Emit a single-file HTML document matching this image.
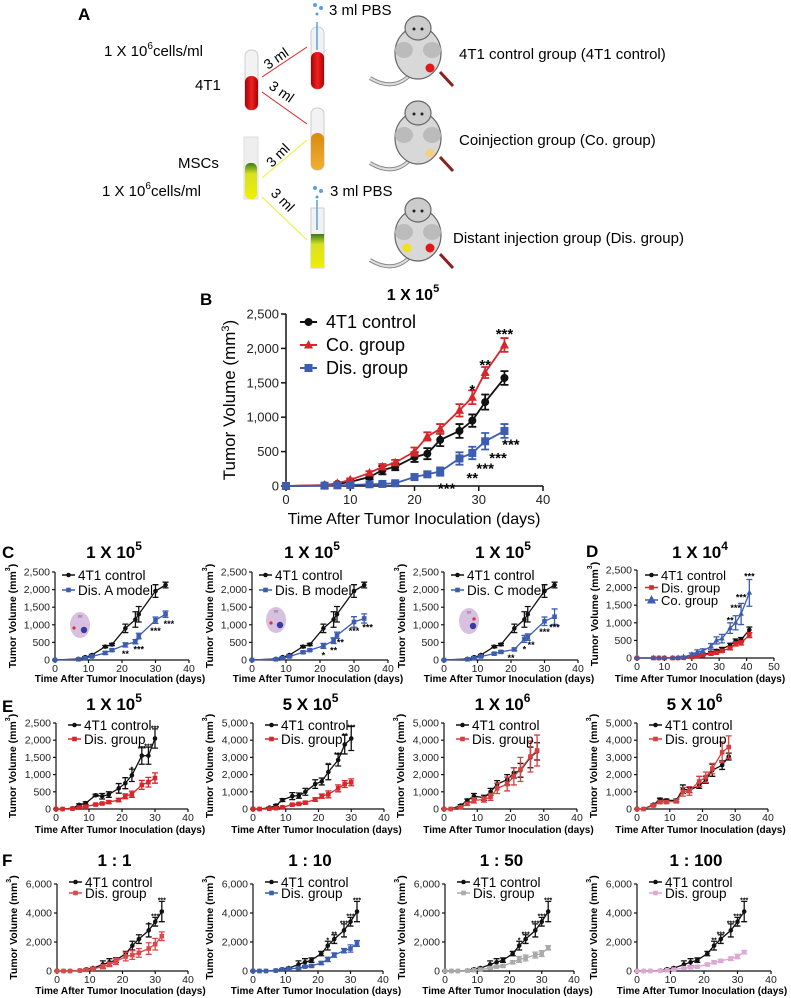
<!DOCTYPE html>
<html><head><meta charset="utf-8">
<style>
html,body{margin:0;padding:0;background:#fff;}
svg{display:block;font-family:"Liberation Sans",sans-serif;}
</style></head>
<body>
<svg id="fig" width="791" height="998" viewBox="0 0 791 998" xmlns="http://www.w3.org/2000/svg">
<defs>
<linearGradient id="gRed" x1="0" y1="0" x2="1" y2="0"><stop offset="0" stop-color="#a00"/><stop offset="0.5" stop-color="#e22"/><stop offset="1" stop-color="#a00"/></linearGradient>
<linearGradient id="gYel" x1="0" y1="0" x2="0" y2="1"><stop offset="0" stop-color="#3a7a1a"/><stop offset="0.3" stop-color="#d8e020"/><stop offset="1" stop-color="#f0f000"/></linearGradient>
<linearGradient id="gOr" x1="0" y1="0" x2="0" y2="1"><stop offset="0" stop-color="#d88a10"/><stop offset="1" stop-color="#f0b030"/></linearGradient>
</defs>
<g id="panelA">
<text x="78" y="20" font-size="17" font-weight="bold">A</text>
<text x="104" y="56" font-size="15">1 X 10<tspan dy="-7" font-size="10">6</tspan><tspan dy="7">cells/ml</tspan></text>
<text x="195" y="90" font-size="15">4T1</text>
<text x="178" y="168" font-size="15">MSCs</text>
<text x="102" y="196" font-size="15">1 X 10<tspan dy="-7" font-size="10">6</tspan><tspan dy="7">cells/ml</tspan></text>
<g><rect x="245" y="50" width="13" height="60" rx="6" fill="#f2f2f2" stroke="#ccc"/><rect x="245" y="76" width="13" height="34" rx="6" fill="url(#gRed)"/></g>
<g><rect x="244" y="137" width="14" height="62" fill="#eee" stroke="#ddd"/><rect x="245" y="163" width="12" height="36" rx="5" fill="url(#gYel)"/></g>
<g><rect x="311" y="27" width="13" height="62" rx="6" fill="#f2f2f2" stroke="#ccc"/><rect x="311" y="52" width="13" height="37" rx="6" fill="url(#gRed)"/><line x1="317" y1="22" x2="317" y2="50" stroke="#5aa0e0" stroke-width="1.5"/></g>
<g><rect x="311" y="108" width="13" height="62" rx="6" fill="#f2f2f2" stroke="#ccc"/><rect x="311" y="133" width="13" height="37" rx="6" fill="url(#gOr)"/></g>
<g><rect x="311" y="208" width="13" height="60" fill="#f2f2f2" stroke="#ccc"/><rect x="311" y="234" width="13" height="34" fill="url(#gYel)"/><line x1="317" y1="200" x2="317" y2="230" stroke="#5aa0e0" stroke-width="1.5"/></g>
<circle cx="315" cy="5" r="2" fill="#5aa0e0"/><circle cx="321" cy="8" r="2" fill="#5aa0e0"/><circle cx="317" cy="14" r="1.5" fill="#5aa0e0"/>
<circle cx="315" cy="188" r="2" fill="#5aa0e0"/><circle cx="321" cy="191" r="2" fill="#5aa0e0"/><circle cx="317" cy="197" r="1.5" fill="#5aa0e0"/>
<text x="329" y="15" font-size="15">3 ml PBS</text>
<text x="330" y="196" font-size="15">3 ml PBS</text>
<g stroke-width="1">
<line x1="262" y1="77" x2="307" y2="47" stroke="#d22"/><line x1="262" y1="92" x2="307" y2="124" stroke="#d22"/>
<line x1="262" y1="178" x2="307" y2="140" stroke="#ee3"/><line x1="262" y1="197" x2="307" y2="240" stroke="#ee3"/>
</g>
<g font-size="14">
<text transform="translate(268,70) rotate(-35)">3 ml</text>
<text transform="translate(268,88) rotate(35)">3 ml</text>
<text transform="translate(272,168) rotate(-45)">3 ml</text>
<text transform="translate(270,194) rotate(45)">3 ml</text>
</g>
<g id="mice"></g>
<text x="459" y="59" font-size="15">4T1 control group (4T1 control)</text>
<text x="459" y="145" font-size="15">Coinjection group (Co. group)</text>
<text x="453" y="243" font-size="15">Distant injection group (Dis. group)</text>
</g>
<g id="charts"></g>
<g font-size="17" font-weight="bold">
<text x="200" y="305">B</text>
<text x="2" y="558">C</text>
<text x="586" y="557">D</text>
<text x="2" y="712">E</text>
<text x="2" y="866">F</text>
</g>
</svg>
<script>
const NS="http://www.w3.org/2000/svg";
function mk(tag,attrs,parent,txt){const e=document.createElementNS(NS,tag);for(const k in attrs)e.setAttribute(k,attrs[k]);if(txt!==undefined)e.textContent=txt;parent.appendChild(e);return e;}

const miceG=document.getElementById('mice');
[[418,20,[[430,68,'#e01818']]],[418,105,[[430,153,'#f5d080']]],[418,202,[[407,248,'#f0e020'],[430,248,'#e01818']]]].forEach((m,i)=>{
  const g=mk('g',{},miceG);
  
  
  const [cx,cy,dots]=m;
  mk('path',{d:`M${cx-8} ${cy+55} Q${cx-25} ${cy+72} ${cx-48} ${cy+58}`,fill:'none',stroke:'#888','stroke-width':4},g);
  mk('path',{d:`M${cx-8} ${cy+55} Q${cx-25} ${cy+72} ${cx-48} ${cy+58}`,fill:'none',stroke:'#ddd','stroke-width':2},g);
  mk('ellipse',{cx:cx,cy:cy+33,rx:23,ry:26,fill:'#d8d8d8',stroke:'#666','stroke-width':1.2},g);
  mk('ellipse',{cx:cx,cy:cy+8,rx:13,ry:12,fill:'#ccc',stroke:'#666','stroke-width':1.2},g);
  mk('ellipse',{cx:cx-14,cy:cy+30,rx:9,ry:8,fill:'#bbb'},g);
  mk('ellipse',{cx:cx+14,cy:cy+30,rx:9,ry:8,fill:'#bbb'},g);
  mk('circle',{cx:cx-4,cy:cy+9,r:1.5,fill:'#222'},g);mk('circle',{cx:cx+4,cy:cy+9,r:1.5,fill:'#222'},g);
  dots.forEach(d=>mk('circle',{cx:d[0],cy:d[1],r:4.5,fill:d[2]},g));
  mk('line',{x1:cx+22,y1:cy+52,x2:cx+35,y2:cy+66,stroke:'#8a2020','stroke-width':3},g);
});

// ---------- DATA ----------
const bDays=[0,6,8,10,13,15,17,20,22,24,27,29,31,34];
const bCtrl=[0,10,30,60,130,230,280,420,470,670,800,950,1220,1570];
const bCtrlErr=[0,10,15,20,30,60,50,70,80,90,100,90,110,100];
const bCo=[0,15,40,90,190,280,340,500,720,830,1100,1290,1650,2050];
const bCoErr=[0,10,15,20,25,40,40,60,60,70,90,100,80,100];
const bDis=[0,5,10,15,25,30,40,130,170,210,400,480,650,800];
const bDisErr=[0,5,5,8,10,15,20,30,40,60,90,90,120,100];
const bYTicks=['0','500','1,000','1,500','2,000','2,500'];
const bXTicks=['0','10','20','30','40'];

const cDays=[0,7,9,11,15,17,21,24,25,30,33];
const cCtrl=[0,30,80,140,380,440,900,1150,1300,1960,2130];
const cCtrlErr=[0,10,20,20,30,30,120,220,220,180,80];
const cDisA=[0,20,50,100,200,280,430,520,680,1130,1300];
const cDisAErr=[0,10,15,20,40,30,60,60,80,90,90];
const cDisB=[0,20,50,100,220,280,400,550,700,1080,1180];
const cDisBErr=[0,10,15,20,30,30,70,80,90,150,130];
const cDisC=[0,20,50,100,180,230,300,600,650,1100,1230];
const cDisCErr=[0,10,15,20,30,30,40,100,90,120,220];
const c25Ticks=['0','500','1,000','1,500','2,000','2,500'];
const x40Ticks=['0','10','20','30','40'];

const dDays=[0,6,8,10,13,15,17,20,22,24,27,29,31,34,36,38,41];
const dCtrl=[0,0,0,0,0,0,10,40,80,100,150,200,250,370,480,520,800];
const dCtrlErr=[0,0,0,0,0,0,10,20,20,30,40,40,50,50,60,60,80];
const dDis=[0,0,0,0,0,0,5,30,60,80,120,150,200,280,400,430,650];
const dDisErr=[0,0,0,0,0,0,5,15,20,20,30,30,40,50,60,60,70];
const dCo=[0,0,0,0,0,10,30,100,170,200,330,500,550,850,1000,1250,1850];
const dCoErr=[0,0,0,0,0,10,20,40,60,60,80,100,120,150,200,300,380];
const x50Ticks=['0','10','20','30','40','50'];

const eDays=[0,2,5,7,9,12,14,16,19,21,23,26,28,30];
const e1Ctrl=[0,0,20,120,170,400,370,420,600,750,980,1550,1550,2050];
const e1CtrlErr=[0,0,10,30,40,30,80,80,140,160,180,250,250,280];
const e1Dis=[0,0,10,40,70,130,160,200,260,370,430,700,780,900];
const e1DisErr=[0,0,5,10,20,20,30,40,50,70,90,130,140,150];
const e2Ctrl=[0,0,80,200,520,750,780,1000,1450,1600,2150,2850,3750,4100];
const e2CtrlErr=[0,0,30,60,80,200,150,200,250,200,450,350,550,700];
const e2Dis=[0,0,20,50,100,250,300,370,550,750,850,1200,1450,1550];
const e2DisErr=[0,0,10,20,30,50,50,70,100,120,200,200,200,200];
const e50Ticks=['0','1,000','2,000','3,000','4,000','5,000'];
const e3Days=[0,2,5,7,9,12,14,16,19,21,23,26,28];
const e3Ctrl=[0,0,200,500,750,650,1000,1450,1700,2100,2250,3000,3350];
const e3CtrlErr=[0,0,50,80,150,150,200,200,300,300,400,600,500];
const e3Dis=[0,0,100,300,500,550,700,1200,1450,1900,2300,3050,3400];
const e3DisErr=[0,0,50,80,150,150,200,300,400,500,700,900,900];
const e4Ctrl=[0,0,250,550,500,500,1150,1100,1350,1700,2250,2550,3050];
const e4CtrlErr=[0,0,50,80,80,80,250,150,150,200,350,250,200];
const e4Dis=[0,0,200,400,400,450,1000,1050,1600,1850,2350,3300,3600];
const e4DisErr=[0,0,50,80,80,100,250,250,300,300,300,600,650];

const fDays=[0,2,4,7,9,11,14,16,18,21,23,25,28,30,32];
const fCtrl=[0,0,0,30,120,200,450,600,750,1200,1750,2200,2800,3400,4100];
const fCtrlErr=[0,0,0,20,50,60,250,250,150,150,300,300,450,300,700];
const f1Dis=[0,0,0,30,80,150,300,450,650,1000,1100,1250,1550,1850,2400];
const f1DisErr=[0,0,0,20,40,60,150,150,200,300,300,300,400,400,300];
const f2Dis=[0,0,0,30,100,150,200,300,350,550,800,1100,1400,1550,1900];
const f2DisErr=[0,0,0,20,30,40,60,60,80,100,150,150,150,250,200];
const f3Dis=[0,0,0,20,60,100,200,300,350,600,800,900,1100,1200,1600];
const f3DisErr=[0,0,0,20,30,40,60,60,80,100,200,200,200,200,150];
const f4Dis=[0,0,0,20,50,100,200,250,300,450,600,700,850,1000,1300];
const f4DisErr=[0,0,0,20,30,40,50,60,80,80,100,100,120,150,120];
const f60Ticks=['0','2,000','4,000','6,000'];

// ---------- CHART BUILDER ----------
const root=document.getElementById('charts');
function chart(c){
  const g=mk('g',{},root);
  
  
  const sx=v=>c.x0+(v/c.xmax)*(c.x1-c.x0);
  const sy=v=>c.y0-(v/c.ymax)*(c.y0-c.yt);
  const big=c.big;
  const tf=big?13:10.5, sw=big?1.5:1.2;
  const ax=mk('line',{x1:c.x0,y1:c.y0,x2:c.x1,y2:c.y0,stroke:'#111','stroke-width':sw},g);
  
  
  const ay=mk('line',{x1:c.x0,y1:c.y0,x2:c.x0,y2:c.yt,stroke:'#111','stroke-width':sw},g);
  
  
  c.xt.forEach((t,i)=>{const v=i*c.xmax/(c.xt.length-1),x=sx(v);
    mk('line',{x1:x,y1:c.y0,x2:x,y2:c.y0+(big?5:3),stroke:'#111','stroke-width':sw},g);
    const tx=mk('text',{x:x,y:c.y0+(big?18:12),'font-size':tf,'text-anchor':'middle',fill:'#222'},g,t);
    
    });
  c.yt_.forEach((t,i)=>{const v=i*c.ymax/(c.yt_.length-1),y=sy(v);
    mk('line',{x1:c.x0,y1:y,x2:c.x0-(big?5:3),y2:y,stroke:'#111','stroke-width':sw},g);
    const tx=mk('text',{x:c.x0-(big?7:5),y:y+(big?4.5:3.5),'font-size':tf,'text-anchor':'end',fill:'#222'},g,t);
    
    });
  const tt=mk('text',{x:c.tx,y:c.ty,'font-size':big?16:17,'font-weight':'bold','text-anchor':'middle'},g);
  
  
  mk('tspan',{},tt,c.title[0]);mk('tspan',{dy:-8,'font-size':big?11:12},tt,c.title[1]);
  const xtl=mk('text',{x:c.xlx,y:c.xly,'font-size':big?16:10,'font-weight':big?'normal':'bold','text-anchor':'middle'},g,'Time After Tumor Inoculation (days)');
  
  
  const ytl=mk('text',{transform:`translate(${c.ylx},${(c.y0+c.yt)/2}) rotate(-90)`,'font-size':big?17:10.5,'font-weight':big?'normal':'bold','text-anchor':'middle'},g);
  
  
  mk('tspan',{},ytl,'Tumor Volume (mm');mk('tspan',{dy:-6,'font-size':big?11:7},ytl,'3');mk('tspan',{dy:6},ytl,')');
  c.series.forEach((s,si)=>{
    const sg=mk('g',{},g);
    
    
    const pts=s.d.map((d,i)=>sx(d)+','+sy(s.v[i])).join(' ');
    mk('polyline',{points:pts,fill:'none',stroke:s.col,'stroke-width':big?1.8:1.3},sg);
    s.d.forEach((d,i)=>{
      const x=sx(d),y=sy(s.v[i]),e=s.e[i],w=big?4:3;
      if(e>0){const y1=sy(s.v[i]+e),y2=sy(Math.max(0,s.v[i]-e));
        mk('path',{d:`M${x} ${y1}V${y2}M${x-w} ${y1}H${x+w}M${x-w} ${y2}H${x+w}`,stroke:s.col,'stroke-width':big?1.8:1.3,fill:'none'},sg);}
      const ms=big?4:2.3;let m;
      if(s.m==='c')m=mk('circle',{cx:x,cy:y,r:ms,fill:s.col},sg);
      else if(s.m==='t')m=mk('path',{d:`M${x} ${y-ms-1}L${x+ms+0.5} ${y+ms-0.5}L${x-ms-0.5} ${y+ms-0.5}Z`,fill:s.col},sg);
      else m=mk('rect',{x:x-ms,y:y-ms,width:2*ms,height:2*ms,fill:s.col},sg);
      
      
    });
    const lg=mk('g',{},g);
    
    
    const ly=c.ly+si*c.lsp, lx=c.lx;
    mk('line',{x1:lx,y1:ly,x2:lx+(big?17:13),y2:ly,stroke:s.col,'stroke-width':big?2:1.5},lg);
    const mx=lx+(big?8.5:6.5);
    if(s.m==='c')mk('circle',{cx:mx,cy:ly,r:big?4:2.3,fill:s.col},lg);
    else if(s.m==='t')mk('path',{d:`M${mx} ${ly-5}L${mx+4.5} ${ly+3.5}L${mx-4.5} ${ly+3.5}Z`,fill:s.col},lg);
    else mk('rect',{x:mx-(big?4:2.3),y:ly-(big?4:2.3),width:big?8:4.6,height:big?8:4.6,fill:s.col},lg);
    mk('text',{x:lx+(big?26:16),y:ly+(big?6:5),'font-size':big?18:c.lfs||13.5},lg,s.label);
  });
  (c.stars||[]).forEach(st=>{
    const t=mk('text',{x:sx(st[0]),y:sy(st[1])+(big?8:4),'font-size':big?15:(c.sfs||9),'text-anchor':'middle','font-weight':'bold'},g,st[2]);
    
    
  });
  if(c.icon){const ig=mk('g',{},g);
    
    
    const [ix,iy,rx]=c.icon;
    mk('ellipse',{cx:ix,cy:iy,rx:10,ry:13,fill:'#d8c0e0'},ig);
    mk('text',{x:ix,y:iy-6,'font-size':6,'text-anchor':'middle',fill:'#555'},ig,'ᵒᵒ');
    mk('circle',{cx:ix+4,cy:iy+5,r:3.2,fill:'#3a3aa0'},ig);
    mk('circle',{cx:ix+rx,cy:iy+(rx>0?-2:3),r:1.6,fill:'#e03030'},ig);}
}
const BLK='#111',RED='#d8262a',BLU='#3c5db0',LRED='#d84040';

chart({name:'chart-b',big:true,x0:286,x1:543,xmax:40,y0:486,yt:314,ymax:2500,xt:bXTicks,yt_:bYTicks,
 title:['1 X 10','5'],tx:413,ty:300,xlx:414,xly:524,ylx:235,lx:300,ly:322,lsp:23,
 series:[{key:'4t1-control',label:'4T1 control',d:bDays,v:bCtrl,e:bCtrlErr,col:BLK,m:'c'},
 {key:'co-group',label:'Co. group',d:bDays,v:bCo,e:bCoErr,col:RED,m:'t'},
 {key:'dis-group',label:'Dis. group',d:bDays,v:bDis,e:bDisErr,col:BLU,m:'s'}],
 stars:[[34,2250,'***'],[31,1800,'**'],[29,1440,'*'],[35,650,'***'],[33,450,'***'],[31,300,'***'],[29,160,'**'],[25,10,'***']]});

function cChart(name,x0,x1,dis,err,lab,icon,stars){
 chart({name,x0,x1,xmax:40,y0:660,yt:572,ymax:2500,xt:x40Ticks,yt_:c25Ticks,title:['1 X 10','5'],tx:(x0+x1)/2-8,ty:558,
  xlx:(x0+x1)/2-2,xly:682,ylx:x0-39,lx:x0+7,ly:575,lsp:15,icon,
  series:[{key:'4t1-control',label:'4T1 control',d:cDays,v:cCtrl,e:cCtrlErr,col:BLK,m:'c'},
  {key:'dis-model',label:lab,d:cDays,v:dis,e:err,col:BLU,m:'s'}],stars});}
cChart('chart-c1',55,189,cDisA,cDisAErr,'Dis. A model',[80,625,-6],[[21,200,'**'],[25,330,'***'],[30,850,'***'],[34,1050,'***']]);
cChart('chart-c2',252,388,cDisB,cDisBErr,'Dis. B model',[276,620,-5],[[21,150,'*'],[24,300,'**'],[26,520,'**'],[30,850,'***'],[34,950,'***']]);
cChart('chart-c3',444,578,cDisC,cDisCErr,'Dis. C model',[469,621,5],[[20,80,'**'],[24,330,'*'],[26,450,'**'],[30,820,'***'],[33,950,'***']]);
chart({name:'chart-d',x0:637,x1:774,xmax:50,y0:658,yt:570,ymax:2500,xt:x50Ticks,yt_:c25Ticks,title:['1 X 10','4'],tx:700,ty:558,
 xlx:700,xly:682,ylx:598,lx:645,ly:575,lsp:12.5,lfs:13,
 series:[{key:'4t1-control',label:'4T1 control',d:dDays,v:dCtrl,e:dCtrlErr,col:BLK,m:'c'},
 {key:'dis-group',label:'Dis. group',d:dDays,v:dDis,e:dDisErr,col:RED,m:'s'},
 {key:'co-group',label:'Co. group',d:dDays,v:dCo,e:dCoErr,col:BLU,m:'t'}],
 stars:[[34,1100,'**'],[36,1450,'***'],[38,1750,'***'],[41,2350,'***']]});

function eChart(name,x0,x1,ymax,yt,c,ce,d,de,days,col,title,stars){
 chart({name,x0,x1,xmax:40,y0:809,yt:723,ymax,xt:x40Ticks,yt_:yt,title,tx:(x0+x1)/2-8,ty:710,
  xlx:(x0+x1)/2-2,xly:833,ylx:x0-40,lx:x0+12,ly:725,lsp:14,sfs:7,
  series:[{key:'4t1-control',label:'4T1 control',d:days,v:c,e:ce,col:BLK,m:'c'},
  {key:'dis-group',label:'Dis. group',d:days,v:d,e:de,col:col,m:'s'}],stars});}
eChart('chart-e1',56,188,2500,c25Ticks,e1Ctrl,e1CtrlErr,e1Dis,e1DisErr,eDays,RED,['1 X 10','5'],[[23,1200,'*'],[26,1800,'***'],[28,1870,'***'],[30,2400,'***']]);
eChart('chart-e2',253,384,5000,e50Ticks,e2Ctrl,e2CtrlErr,e2Dis,e2DisErr,eDays,RED,['5 X 10','5'],[[23,2650,'**'],[26,3250,'***'],[28,4350,'**'],[30,4850,'***']]);
eChart('chart-e3',444,577,5000,e50Ticks,e3Ctrl,e3CtrlErr,e3Dis,e3DisErr,e3Days,LRED,['1 X 10','6'],[]);
eChart('chart-e4',637,768,5000,e50Ticks,e4Ctrl,e4CtrlErr,e4Dis,e4DisErr,e3Days,LRED,['5 X 10','6'],[]);

function fChart(name,x0,x1,d,de,col,title,stars){
 chart({name,x0,x1,xmax:40,y0:971,yt:884,ymax:6000,xt:x40Ticks,yt_:f60Ticks,title,tx:(x0+x1)/2-8,ty:866,
  xlx:(x0+x1)/2-2,xly:994,ylx:x0-40,lx:x0+12,ly:882,lsp:11,sfs:7,
  series:[{key:'4t1-control',label:'4T1 control',d:fDays,v:fCtrl,e:fCtrlErr,col:BLK,m:'c'},
  {key:'dis-group',label:'Dis. group',d:fDays,v:d,e:de,col:col,m:'s'}],stars});}
const fStars=[[23,2250,'*'],[25,2650,'***'],[28,3400,'***'],[30,3900,'***'],[32,5000,'***']];
fChart('chart-f1',57,188,f1Dis,f1DisErr,'#d84a4a',['1 : 1',''],[[28,3300,'*'],[30,3900,'***'],[32,5000,'***']]);
fChart('chart-f2',253,383,f2Dis,f2DisErr,'#3c5db0',['1 : 10',''],[[23,2250,'*'],[25,2650,'**'],[28,3400,'***'],[30,3900,'***'],[32,5000,'***']]);
fChart('chart-f3',445,574,f3Dis,f3DisErr,'#aaaaaa',['1 : 50',''],fStars);
fChart('chart-f4',637,771,f4Dis,f4DisErr,'#dca8d4',['1 : 100',''],[[23,2250,'**'],[25,2650,'***'],[28,3400,'***'],[30,3900,'***'],[32,5000,'***']]);
</script>
</body></html>
